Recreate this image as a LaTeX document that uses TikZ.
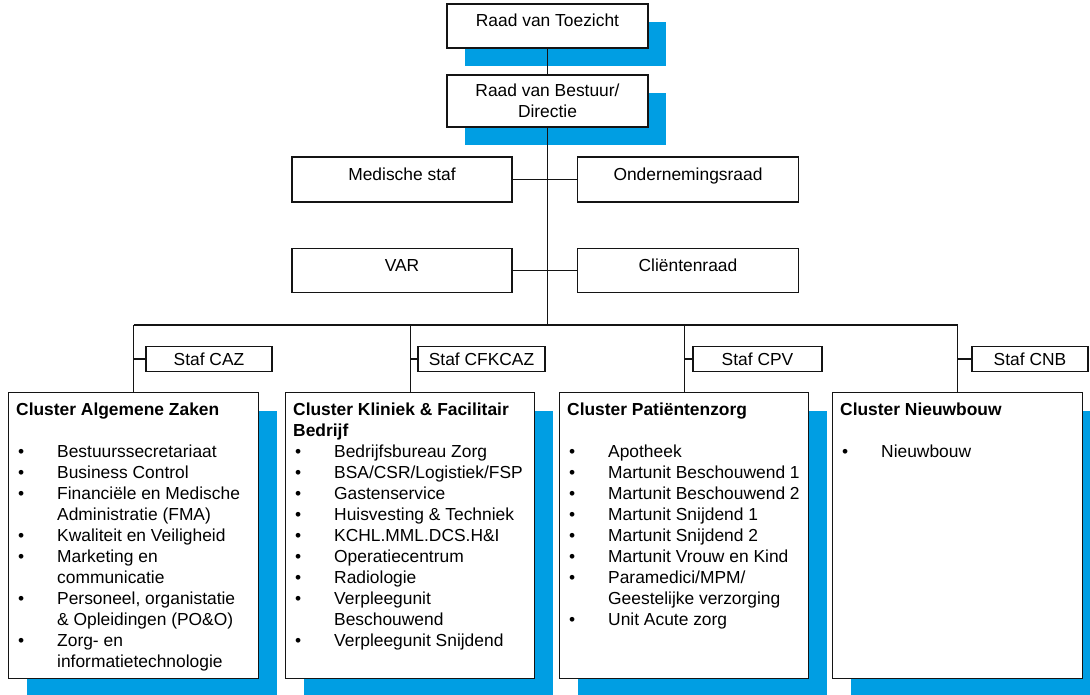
\documentclass[tikz,border=0pt]{standalone}
\usepackage{fontspec}
\setmainfont{Liberation Sans}
\usepackage{array}
\usetikzlibrary{shadows,calc}
\definecolor{shadowblue}{RGB}{0,158,227}
\definecolor{lineblack}{RGB}{20,20,20}
\newcommand{\bl}[1]{\hspace{2pt}\textbullet & #1\\}
\newcommand{\cl}[1]{ & #1\\}
\newcommand{\ttl}[1]{\multicolumn{2}{@{}l@{}}{\textbf{#1}}\\}
\newenvironment{clist}{\begin{tabular}{@{}p{41pt}@{}l@{}}}{\end{tabular}}
\begin{document}
\begin{tikzpicture}[x=1pt,y=-1pt,
  every node/.style={font=\fontsize{17.4}{21}\selectfont, text=black},
  box/.style={draw=lineblack, line width=1.2pt, fill=white, inner sep=0pt},
  blueshadow/.style={drop shadow={shadow xshift=18pt, shadow yshift=-18pt, fill=shadowblue, opacity=1}},
  topaligned/.style={text height=12pt, text depth=12pt},
  midaligned/.style={text height=12pt, text depth=10.5pt},
  conn/.style={draw=lineblack, line width=1.2pt},
  content/.style={anchor=north west, inner sep=0pt, align=left}]
\useasboundingbox (0,0) rectangle (1090,694);

% top
\node[box, blueshadow, topaligned, minimum width=201pt, minimum height=44pt] (rvt) at (547.5,26) {Raad van Toezicht};
\node[box, blueshadow, align=center, minimum width=201pt, minimum height=52pt] (rvb) at (547.5,101) {Raad van Bestuur/\\Directie};

% advisory
\node[box, midaligned, minimum width=220pt, minimum height=45pt] (med) at (402,179.5) {Medische staf};
\node[box, midaligned, minimum width=221pt, minimum height=45pt] (ond) at (688,179.5) {Ondernemingsraad};
\node[box, midaligned, minimum width=220pt, minimum height=44pt] (var) at (402,270.5) {VAR};
\node[box, midaligned, minimum width=221pt, minimum height=44pt] (cli) at (688,270.5) {Cliëntenraad};

\coordinate (bus) at (547.5,325);

% clusters
\node[box, blueshadow, anchor=north west, minimum width=250pt, minimum height=286pt] (c1) at (8,392) {};
\node[box, blueshadow, anchor=north west, minimum width=249pt, minimum height=286pt] (c2) at (285,392) {};
\node[box, blueshadow, anchor=north west, minimum width=249pt, minimum height=286pt] (c3) at (559,392) {};
\node[box, blueshadow, anchor=north west, minimum width=250pt, minimum height=286pt] (c4) at (832,392) {};

% staff
\node[box, minimum width=126pt, minimum height=25pt] (s1) at (209,359) {Staf CAZ};
\node[box, minimum width=127pt, minimum height=25pt] (s2) at (481.5,359) {Staf CFKCAZ};
\node[box, minimum width=129pt, minimum height=25pt] (s3) at (757.5,359) {Staf CPV};
\node[box, minimum width=116pt, minimum height=25pt] (s4) at (1030,359) {Staf CNB};

% connectors
\draw[conn] (rvt.south) -- (rvb.north);
\draw[conn] (rvb.south) -- (bus);
\draw[conn] (med.east) -- (ond.west);
\draw[conn] (var.east) -- (cli.west);
\draw[conn] (c1.north |- bus) -- (c4.north |- bus);
\draw[conn] (c1.north |- bus) -- (c1.north);
\draw[conn] (c2.north |- bus) -- (c2.north);
\draw[conn] (c3.north |- bus) -- (c3.north);
\draw[conn] (c4.north |- bus) -- (c4.north);
\draw[conn] (s1.west) -- (s1.west -| c1.north);
\draw[conn] (s2.west) -- (s2.west -| c2.north);
\draw[conn] (s3.west) -- (s3.west -| c3.north);
\draw[conn] (s4.west) -- (s4.west -| c4.north);

% cluster contents
\node[content] (t1) at ($(c1.north west)+(8,8.3)$) {\begin{clist}
\ttl{Cluster Algemene Zaken}
\cl{}
\bl{Bestuurssecretariaat}
\bl{Business Control}
\bl{Financiële en Medische}
\cl{Administratie (FMA)}
\bl{Kwaliteit en Veiligheid}
\bl{Marketing en}
\cl{communicatie}
\bl{Personeel, organistatie}
\cl{\& Opleidingen (PO\&O)}
\bl{Zorg- en}
\cl{informatietechnologie}
\end{clist}};
\node[content] (t2) at ($(c2.north west)+(8,8.3)$) {\begin{clist}
\ttl{Cluster Kliniek \& Facilitair}
\ttl{Bedrijf}
\bl{Bedrijfsbureau Zorg}
\bl{BSA/CSR/Logistiek/FSP}
\bl{Gastenservice}
\bl{Huisvesting \& Techniek}
\bl{KCHL.MML.DCS.H\&I}
\bl{Operatiecentrum}
\bl{Radiologie}
\bl{Verpleegunit}
\cl{Beschouwend}
\bl{Verpleegunit Snijdend}
\end{clist}};
\node[content] (t3) at ($(c3.north west)+(8,8.3)$) {\begin{clist}
\ttl{Cluster Patiëntenzorg}
\cl{}
\bl{Apotheek}
\bl{Martunit Beschouwend 1}
\bl{Martunit Beschouwend 2}
\bl{Martunit Snijdend 1}
\bl{Martunit Snijdend 2}
\bl{Martunit Vrouw en Kind}
\bl{Paramedici/MPM/}
\cl{Geestelijke verzorging}
\bl{Unit Acute zorg}
\end{clist}};
\node[content] (t4) at ($(c4.north west)+(8,8.3)$) {\begin{clist}
\ttl{Cluster Nieuwbouw}
\cl{}
\bl{Nieuwbouw}
\end{clist}};
\end{tikzpicture}
\end{document}
